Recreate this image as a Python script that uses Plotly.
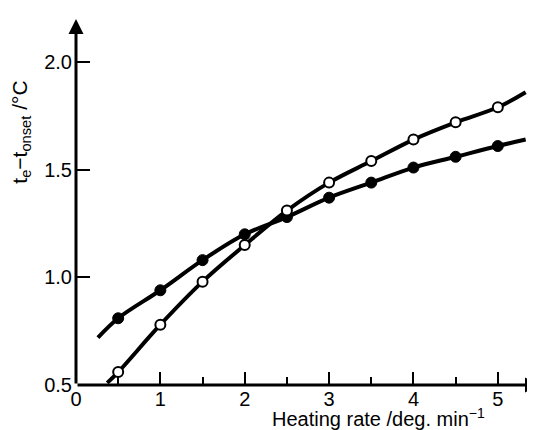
import plotly.graph_objects as go

# Data
rate = [0.5, 1.0, 1.5, 2.0, 2.5, 3.0, 3.5, 4.0, 4.5, 5.0]
open_vals = [0.56, 0.78, 0.98, 1.15, 1.31, 1.44, 1.54, 1.64, 1.72, 1.79]
filled_vals = [0.81, 0.94, 1.08, 1.20, 1.28, 1.37, 1.44, 1.51, 1.56, 1.61]

# curve ends (drawn beyond the points)
open_curve_x = [0.37] + rate + [5.33]
open_curve_y = [0.51] + open_vals + [1.86]
filled_curve_x = [0.26] + rate + [5.33]
filled_curve_y = [0.72] + filled_vals + [1.64]

x_ticks = [0, 1, 2, 3, 4, 5]
y_ticks = [0.5, 1.0, 1.5, 2.0]
y_tick_text = ["0.5", "1.0", "1.5", "2.0"]

FONT = "Liberation Sans"

fig = go.Figure()
fig.add_trace(go.Scatter(x=filled_curve_x, y=filled_curve_y, mode="lines",
                         line=dict(color="black", width=4, shape="spline", smoothing=1.0),
                         showlegend=False, hoverinfo="skip"))
fig.add_trace(go.Scatter(x=open_curve_x, y=open_curve_y, mode="lines",
                         line=dict(color="black", width=4, shape="spline", smoothing=1.0),
                         showlegend=False, hoverinfo="skip"))
fig.add_trace(go.Scatter(x=rate, y=filled_vals, mode="markers",
                         marker=dict(symbol="circle", size=11, color="black",
                                     line=dict(color="black", width=1)),
                         showlegend=False))
fig.add_trace(go.Scatter(x=rate, y=open_vals, mode="markers",
                         marker=dict(symbol="circle", size=10, color="white",
                                     line=dict(color="black", width=2)),
                         showlegend=False))

# axis lines with arrow heads
fig.add_annotation(x=5.5, y=0.5, ax=0, ay=0.5, xref="x", yref="y", axref="x", ayref="y",
                   text="", showarrow=True, arrowhead=2, arrowsize=1.0, arrowwidth=3,
                   arrowcolor="black", standoff=0, startstandoff=0)
fig.add_annotation(x=0, y=2.2, ax=0, ay=0.5, xref="x", yref="y", axref="x", ayref="y",
                   text="", showarrow=True, arrowhead=2, arrowsize=1.0, arrowwidth=3,
                   arrowcolor="black", standoff=0, startstandoff=0)

# axis titles
fig.add_annotation(x=0.651, y=-0.125, xref="paper", yref="paper",
                   text="Heating rate /deg. min<sup>−1</sup>", showarrow=False,
                   font=dict(family=FONT, size=20, color="black"),
                   xanchor="center", yanchor="bottom", borderpad=0)
fig.add_annotation(x=-0.118, y=0.69, xref="paper", yref="paper",
                   text="t<sub>e</sub>−t<sub>onset</sub> /°C", showarrow=False,
                   textangle=-90, font=dict(family=FONT, size=21, color="black"),
                   xanchor="center", yanchor="middle")

fig.update_xaxes(range=[0, 5.5], tickvals=x_ticks, ticktext=[str(v) for v in x_ticks],
                 ticks="inside", ticklen=13, tickwidth=2, tickcolor="black",
                 minor=dict(dtick=0.5, ticks="inside", ticklen=8, tickwidth=2, tickcolor="black"),
                 showgrid=False, zeroline=False, showline=False,
                 tickfont=dict(family=FONT, size=20, color="black"))
fig.update_yaxes(range=[0.5, 2.2], tickvals=y_ticks, ticktext=y_tick_text,
                 ticks="inside", ticklen=14, tickwidth=2, tickcolor="black",
                 ticklabelstandoff=3,
                 showgrid=False, zeroline=False, showline=False,
                 tickfont=dict(family=FONT, size=20, color="black"))

fig.update_layout(width=535, height=430, margin=dict(l=68, r=3, t=11, b=53),
                  paper_bgcolor="white", plot_bgcolor="white", showlegend=False)

fig.write_html("out.html")
